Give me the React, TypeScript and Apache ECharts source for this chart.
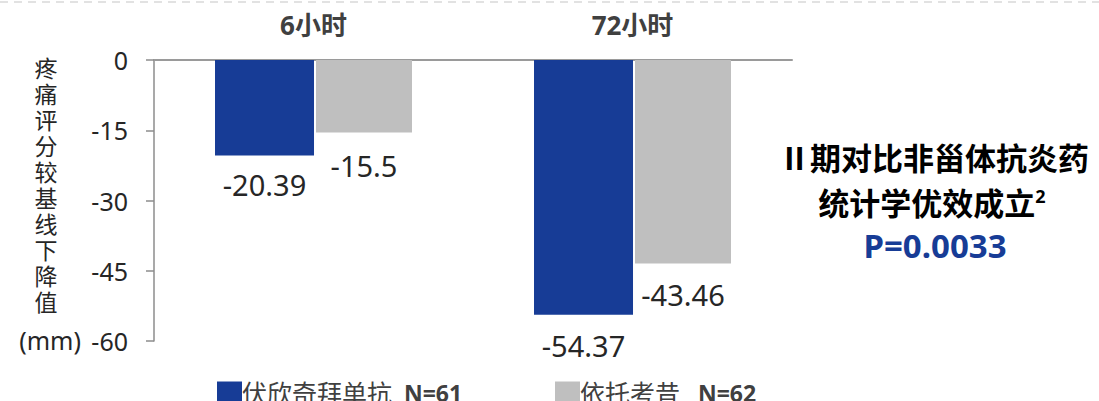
import React, { useEffect, useRef } from "react";
import * as echarts from "echarts";

const categories = ["6小时", "72小时"];
const seriesNames = ["伏欣奇拜单抗", "依托考昔"];
const sampleSizes = ["N=61", "N=62"];
const drugValues = [-20.39, -54.37];
const comparatorValues = [-15.5, -43.46];
const yTicks = { min: -60, max: 0, interval: 15 };
const yTitle = "疼痛评分较基线下降值";
const yUnit = "(mm)";
const noteLines = ["Ⅱ期对比非甾体抗炎药", "统计学优效成立", "P=0.0033"];

const FONT = "'Noto Sans', 'Noto Sans CJK SC', sans-serif";
const BLUE = "#173c96";
const GRAY = "#bfbfbf";
const labelDist = [
  [14, 16],
  [18, 16],
];
const legendLefts = [212, 550];

export default function App() {
  const ref = useRef<HTMLDivElement>(null);
  useEffect(() => {
    if (!ref.current) return;
    const chart = echarts.init(ref.current, undefined, { renderer: "svg" });
    const mk = (vals: number[], si: number) =>
      vals.map((v, i) => ({
        value: v,
        label: { distance: labelDist[si][i] },
      }));
    const titleChars = yTitle.split("").map((c, i) => ({
      type: "text",
      x: 46,
      y: 68 + i * 26,
      style: {
        text: c,
        font: `23px ${FONT}`,
        lineHeight: 23,
        fill: "#262626",
        align: "center",
        verticalAlign: "middle",
      },
    }));
    const legends = seriesNames.map((name, i) => ({
      left: legendLefts[i],
      top: 375,
      itemWidth: 25,
      itemHeight: 22,
      icon: "rect",
      data: [name],
      formatter: (n: string) =>
        `{a|${n}}{b|${i === 1 ? "   " : "  "}${sampleSizes[i]}}`,
      textStyle: {
        padding: [0, 0, 0, -5],
        rich: {
          a: { fontSize: 25, lineHeight: 26, color: "#404040", fontFamily: FONT },
          b: { fontSize: 23, lineHeight: 26, color: "#404040", fontWeight: "bold", fontFamily: FONT },
        },
      },
    }));
    chart.setOption({
      animation: false,
      grid: { left: 154, right: 307, top: 60, bottom: 60 },
      xAxis: {
        type: "category",
        data: categories,
        position: "top",
        axisLine: { lineStyle: { color: "#9a9a9a", width: 2 } },
        axisTick: { show: false },
        axisLabel: {
          margin: 22,
          fontSize: 26,
          fontWeight: "bold",
          color: "#404040",
          fontFamily: FONT,
        },
      },
      yAxis: {
        type: "value",
        min: yTicks.min,
        max: yTicks.max,
        interval: yTicks.interval,
        axisLine: { show: true, lineStyle: { color: "#8c8c8c", width: 1.5 } },
        axisTick: { show: true, length: 8, lineStyle: { color: "#8c8c8c", width: 1.5 } },
        splitLine: { show: false },
        axisLabel: {
          margin: 26,
          fontSize: 25,
          color: "#262626",
          fontFamily: FONT,
        },
      },
      legend: legends,
      series: [
        {
          name: seriesNames[0],
          type: "bar",
          data: mk(drugValues, 0),
          barWidth: 99,
          barGap: "2%",
          itemStyle: { color: BLUE },
          label: {
            show: true,
            position: "bottom",
            fontSize: 29,
            color: "#262626",
            fontFamily: FONT,
          },
        },
        {
          name: seriesNames[1],
          type: "bar",
          data: mk(comparatorValues, 1),
          barWidth: 96,
          barGap: "2%",
          itemStyle: { color: GRAY },
          label: {
            show: true,
            position: "bottom",
            fontSize: 29,
            color: "#262626",
            fontFamily: FONT,
          },
        },
      ],
      graphic: [
        {
          type: "line",
          shape: { x1: 0, y1: 2, x2: 1099, y2: 2 },
          style: { stroke: "#d9d9d9", lineWidth: 1.5, lineDash: [8, 6] },
        },
        ...titleChars,
        {
          type: "text",
          x: 50,
          y: 340,
          style: {
            text: yUnit,
            font: `25px ${FONT}`,
            fill: "#262626",
            align: "center",
            verticalAlign: "middle",
          },
        },
        {
          type: "text",
          x: 934,
          y: 158,
          style: {
            text: noteLines[0],
            font: `bold 31px ${FONT}`,
            fill: "#000",
            align: "center",
            verticalAlign: "middle",
          },
        },
        {
          type: "text",
          x: 932,
          y: 203,
          style: {
            text: `{m|${noteLines[1]}}{s|2}`,
            font: `bold 31px ${FONT}`,
            fill: "#000",
            align: "center",
            verticalAlign: "middle",
            rich: {
              m: { font: `bold 31px ${FONT}`, fill: "#000" },
              s: { font: `bold 18px ${FONT}`, fill: "#000", verticalAlign: "top", padding: [0, 0, 14, 0] },
            },
          },
        },
        {
          type: "text",
          x: 935,
          y: 245,
          style: {
            text: noteLines[2],
            font: `bold 33px ${FONT}`,
            fill: BLUE,
            align: "center",
            verticalAlign: "middle",
          },
        },
      ],
    });
    return () => chart.dispose();
  }, []);
  return <div ref={ref} style={{ width: 1099, height: 401, position: "absolute", left: 0, top: 0 }} />;
}
